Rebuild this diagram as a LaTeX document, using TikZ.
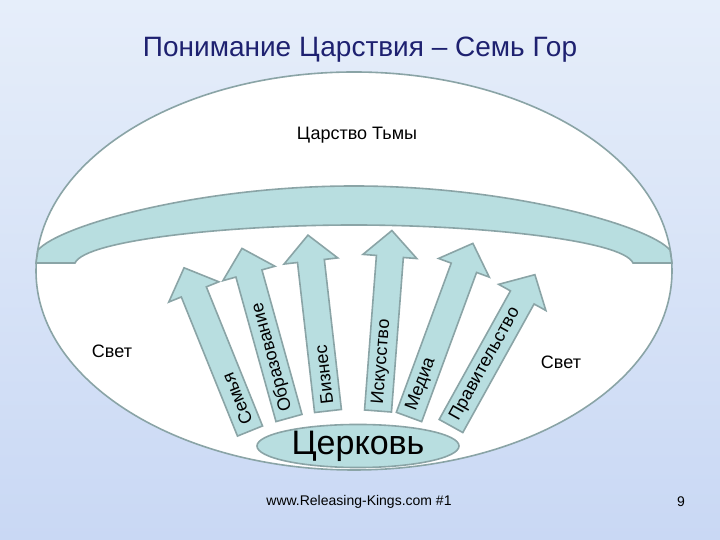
\documentclass[tikz,border=0pt]{standalone}
\usepackage{fontspec}
\setmainfont{Liberation Sans}
\usetikzlibrary{calc,shapes.geometric}
\definecolor{sky}{HTML}{E6EEFA}
\definecolor{skylow}{HTML}{C9D8F4}
\definecolor{navy}{HTML}{1E2170}
\definecolor{teal}{HTML}{B8DEE0}
\definecolor{edge}{HTML}{8AA4A6}
\tikzset{
  base/.style={inner sep=0pt, text=black, font=\fontsize{18}{20}\selectfont},
  shell/.style={fill=white, draw=edge, line width=1.6pt},
  tint/.style={fill=teal, draw=edge, line width=1.6pt, line join=miter},
  lab/.style={base, anchor=west},
}

\begin{document}
\begin{tikzpicture}[x=1pt, y=1pt]
  \useasboundingbox (0,0) rectangle (720,540);
  \shade[top color=sky, bottom color=skylow] (0,0) rectangle (720,540);

  % title
  \node[base, text=navy, font=\fontsize{28}{32}\selectfont] (title) at (360,490) {Понимание Царствия – Семь Гор};

  % the world and the dark kingdom
  \draw[shell] (354,269) ellipse [x radius=318, y radius=199];
  \draw[tint] (36,277) -- (75,277) .. controls (85,300) and (230,315) .. (354,315)
    .. controls (478,315) and (623,300) .. (633,277) -- (672,277) -- (670,290)
    .. controls (648,315) and (508,354) .. (354,354)
    .. controls (200,354) and (60,315) .. (38,290) -- cycle;
  \node[base] (dark) at (357,405) {Царство Тьмы};

  % mountains
  \foreach \x/\y/\a/\l/\t [count=\i] in {250/109/112/176/Семья,
                                          289/122/105.5/176/Образование,
                                          328/129/96.5/177/Бизнес,
                                          378/129/85.6/181/Искусство,
                                          409/123/69.8/185/Медиа,
                                          451/114/61/173/Правительство} {
    \begin{scope}[shift={(\x,\y)}, rotate=\a]
      \draw[tint] (0,-13.5) -- (\l-26,-13.5) -- (\l-26,-27) -- (\l,0)
        -- (\l-26,27) -- (\l-26,13.5) -- (0,13.5) -- cycle;
      \node[lab, rotate=\a] (m\i) at (7,0) {\t};
    \end{scope}
  }

  \node[base] (lightL) at (112,189) {Свет};
  \node[base] (lightR) at (561,178) {Свет};

  % church
  \node[tint, ellipse, minimum width=202pt, minimum height=38pt, inner sep=0pt,
        font=\fontsize{34}{36}\selectfont] (church) at (358,94) {Церковь};

  \node[base, font=\fontsize{14}{16}\selectfont] (foot) at (359,38) {www.Releasing-Kings.com \#1};
  \node[base, font=\fontsize{14}{16}\selectfont] (page) at (681,38) {9};
\end{tikzpicture}
\end{document}
